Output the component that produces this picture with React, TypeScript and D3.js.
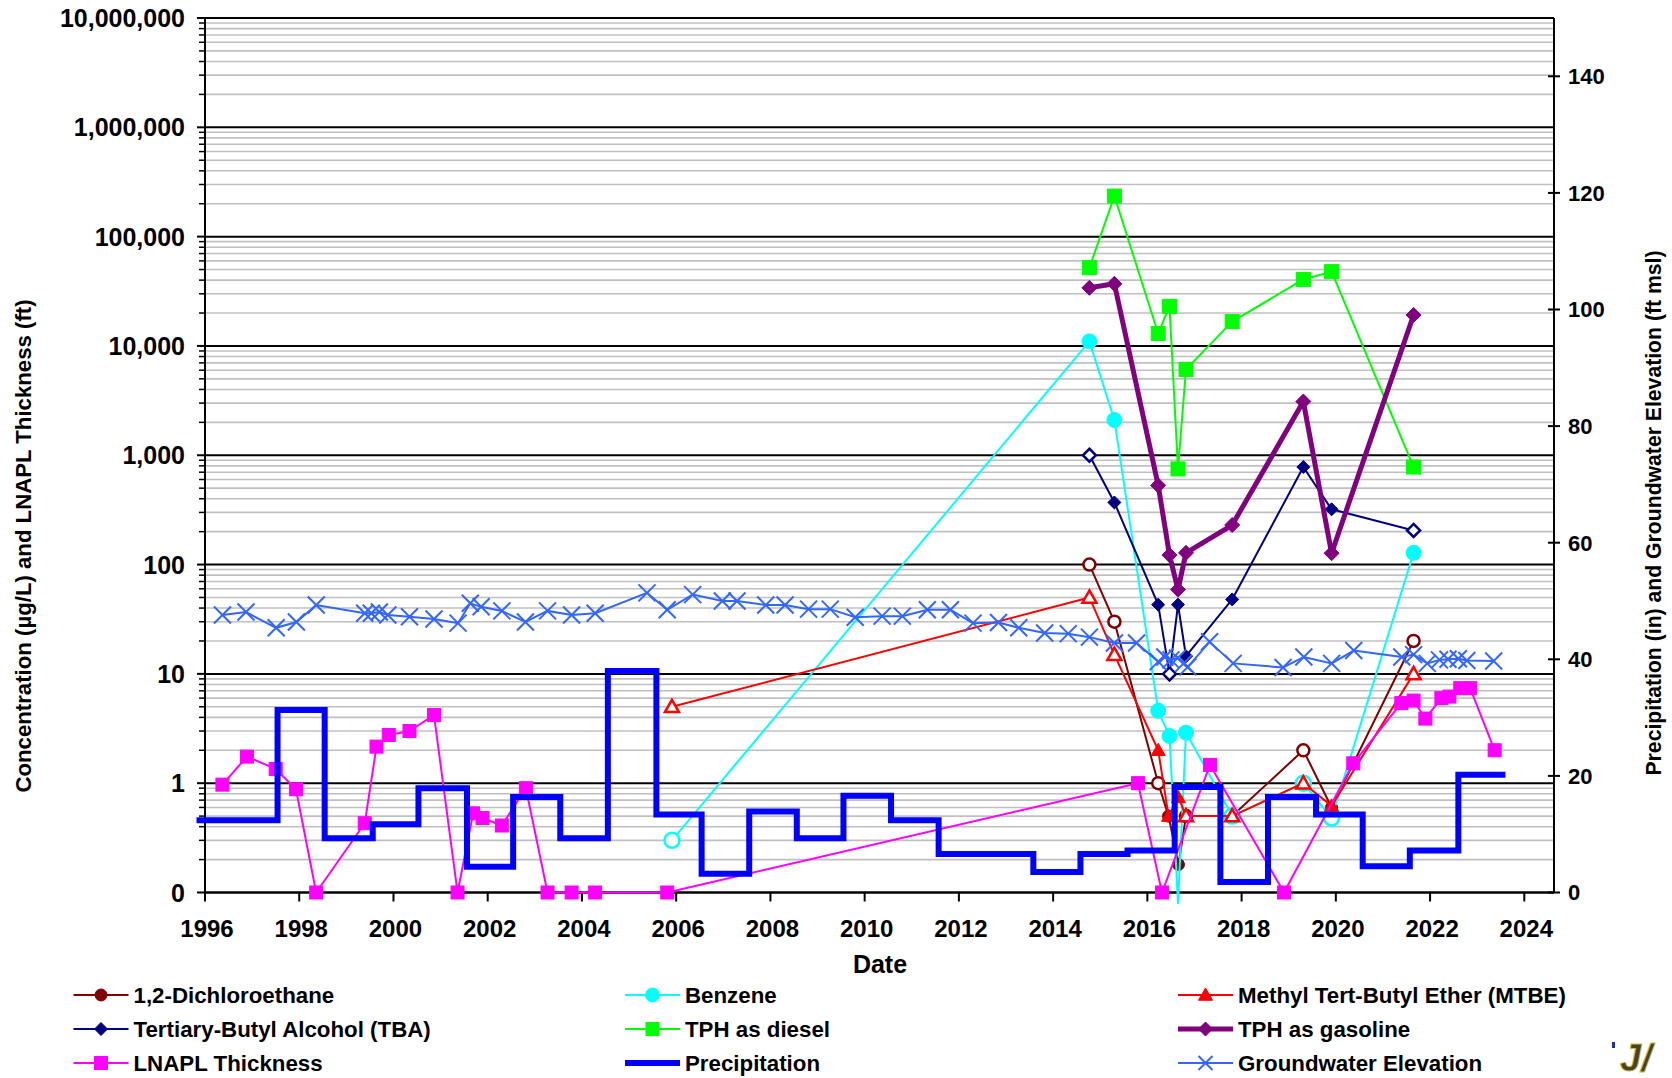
import React from "react";
import * as d3 from "d3";

// ---------- axes / ticks ----------
const xTickYears = [1996, 1998, 2000, 2002, 2004, 2006, 2008, 2010, 2012, 2014, 2016, 2018, 2020, 2022, 2024];
const leftTickValues = [0.1, 1, 10, 100, 1000, 10000, 100000, 1000000, 10000000];
const leftTickLabels = ["0", "1", "10", "100", "1,000", "10,000", "100,000", "1,000,000", "10,000,000"];
const rightTickValues = [0, 20, 40, 60, 80, 100, 120, 140];

// ---------- data (decimal years) ----------
const dcaDates = [2014.77, 2015.3, 2016.23, 2016.45, 2016.66, 2016.82, 2017.8, 2019.31, 2019.91, 2021.65];
const dcaValues = [100, 30, 1.0, 0.5, 0.18, 0.5, 0.5, 2.0, 0.6, 20];
const dcaFlags = ["o", "o", "o", "f", "f", "o", "o", "o", "f", "o"];

const benzeneDates = [2005.91, 2014.77, 2015.3, 2016.23, 2016.47, 2016.65, 2016.82, 2017.8, 2019.31, 2019.91, 2021.65];
const benzeneValues = [0.3, 11000, 2100, 4.6, 2.7, 0.08, 2.9, 0.5, 1.0, 0.48, 128];
const benzeneFlags = ["o", "f", "f", "f", "f", "n", "f", "o", "o", "o", "f"];

const mtbeDates = [2005.91, 2014.77, 2015.3, 2016.23, 2016.45, 2016.66, 2016.82, 2017.8, 2019.31, 2019.91, 2021.65];
const mtbeValues = [5, 50, 15, 2.0, 0.5, 0.74, 0.5, 0.5, 1.0, 0.62, 10];
const mtbeFlags = ["o", "o", "o", "f", "f", "f", "o", "o", "o", "f", "o"];

const tbaDates = [2014.77, 2015.3, 2016.23, 2016.47, 2016.65, 2016.82, 2017.8, 2019.31, 2019.91, 2021.65];
const tbaValues = [1000, 370, 43, 10, 43, 14.5, 48, 780, 320, 205];
const tbaFlags = ["o", "f", "f", "o", "f", "f", "f", "f", "f", "o"];

const dieselDates = [2014.77, 2015.3, 2016.23, 2016.47, 2016.65, 2016.82, 2017.8, 2019.31, 2019.91, 2021.65];
const dieselValues = [52000, 235000, 13000, 23000, 750, 6100, 16700, 40600, 47800, 780];

const gasolineDates = [2014.77, 2015.3, 2016.23, 2016.47, 2016.65, 2016.82, 2017.8, 2019.31, 2019.91, 2021.65];
const gasolineValues = [34000, 37000, 530, 122, 59, 128, 230, 3100, 127, 19200];

const lnaplDates = [
  1996.37, 1996.89, 1997.5, 1997.93, 1998.36, 1999.39, 1999.64, 1999.9, 2000.34, 2000.86,
  2001.36, 2001.69, 2001.89, 2002.3, 2002.81, 2003.27, 2003.78, 2004.28, 2005.81, 2015.8,
  2016.31, 2017.33, 2018.9, 2020.37, 2021.39, 2021.65, 2021.9, 2022.24, 2022.41, 2022.64,
  2022.85, 2023.37,
];
const lnaplValues = [
  0.97, 1.75, 1.35, 0.88, 0, 0.43, 2.16, 2.76, 3.0, 4.2,
  0, 0.53, 0.48, 0.41, 0.9, 0, 0, 0, 0, 1.0,
  0, 1.47, 0, 1.52, 5.4, 5.7, 3.9, 6.0, 6.2, 7.4,
  7.4, 2.0,
];

const precipDates = [
  1995.82, 1997.54, 1998.54, 1999.56, 2000.53, 2001.56, 2002.54, 2003.54, 2004.55, 2005.58,
  2006.54, 2007.55, 2008.56, 2009.55, 2010.56, 2011.57, 2012.57, 2013.58, 2014.58, 2015.58,
  2016.58, 2017.55, 2018.56, 2019.58, 2020.57, 2021.57, 2022.6,
];
const precipValues = [
  12.4, 31.3, 9.3, 11.7, 17.9, 4.4, 16.4, 9.3, 38.0, 13.4,
  3.2, 13.9, 9.3, 16.6, 12.4, 6.6, 6.6, 3.5, 6.6, 7.2,
  18.1, 1.8, 16.4, 13.4, 4.5, 7.2, 20.2,
];
const precipEndDate = 2023.6;

const gwDates = [
  1996.37, 1996.87, 1997.51, 1997.94, 1998.36, 1999.39, 1999.53, 1999.7, 1999.88, 2000.34,
  2000.86, 2001.37, 2001.63, 2001.86, 2002.3, 2002.8, 2003.27, 2003.78, 2004.28, 2005.38,
  2005.81, 2006.35, 2006.98, 2007.29, 2007.9, 2008.31, 2008.81, 2009.27, 2009.8, 2010.37,
  2010.8, 2011.33, 2011.82, 2012.3, 2012.84, 2013.27, 2013.82, 2014.32, 2014.77, 2015.3,
  2015.77, 2016.23, 2016.37, 2016.5, 2016.64, 2016.77, 2016.86, 2017.32, 2017.82, 2018.88,
  2019.32, 2019.91, 2020.38, 2021.4, 2021.65, 2021.94, 2022.2, 2022.38, 2022.6, 2022.78,
  2023.35,
];
const gwValues = [
  47.6, 48.1, 45.4, 46.4, 49.3, 47.9, 47.9, 48.1, 47.6, 47.3,
  46.9, 46.2, 49.6, 49.0, 48.3, 46.4, 48.3, 47.6, 47.9, 51.4,
  48.5, 51.1, 50.0, 50.0, 49.3, 49.3, 48.6, 48.6, 47.2, 47.4,
  47.4, 48.5, 48.5, 46.2, 46.3, 45.4, 44.5, 44.4, 43.8, 42.8,
  42.8, 39.6, 40.4, 39.9, 40.2, 39.3, 38.7, 43.0, 39.3, 38.6,
  40.4, 39.3, 41.5, 40.4, 40.8, 39.3, 39.9, 40.0, 40.1, 39.8,
  39.7,
];

// ---------- layout ----------
const W = 1672;
const H = 1078;
const PL = 205;
const PR = 1554;
const PT = 18;
const PB = 892.5;
const FONT = "'Liberation Sans', Arial, Helvetica, sans-serif";

type Shape = "circle" | "triangle" | "diamond" | "square" | "x";

function Marker(props: { shape: Shape; cx: number; cy: number; s: number; color: string; open?: boolean }) {
  const { shape, cx, cy, s, color, open } = props;
  const fill = open ? "#ffffff" : color;
  const stroke = color;
  const sw = open ? 2.5 : 1;
  if (shape === "circle") return <circle cx={cx} cy={cy} r={s} fill={fill} stroke={stroke} strokeWidth={sw} />;
  if (shape === "square")
    return <rect x={cx - s} y={cy - s} width={2 * s} height={2 * s} fill={fill} stroke={stroke} strokeWidth={sw} />;
  if (shape === "diamond")
    return (
      <path
        d={`M${cx},${cy - s}L${cx + s},${cy}L${cx},${cy + s}L${cx - s},${cy}Z`}
        fill={fill}
        stroke={stroke}
        strokeWidth={sw}
      />
    );
  if (shape === "triangle")
    return (
      <path
        d={`M${cx},${cy - s * 1.0}L${cx + s},${cy + s * 0.75}L${cx - s},${cy + s * 0.75}Z`}
        fill={fill}
        stroke={stroke}
        strokeWidth={sw}
      />
    );
  return (
    <g stroke={color} strokeWidth={2}>
      <line x1={cx - s} y1={cy - s} x2={cx + s} y2={cy + s} />
      <line x1={cx - s} y1={cy + s} x2={cx + s} y2={cy - s} />
    </g>
  );
}

export default function App() {
  const x = d3.scaleLinear().domain([1996, 2024.63]).range([PL, PR]);
  const yL = d3.scaleLog().domain([0.1, 1e7]).range([PB, PT]);
  const yR = d3.scaleLinear().domain([0, 150]).range([PB, PT]);

  const lineL = d3
    .line<[number, number]>()
    .x((d) => x(d[0]))
    .y((d) => yL(d[1]));
  const lineR = d3
    .line<[number, number]>()
    .x((d) => x(d[0]))
    .y((d) => yR(d[1]));
  const stepR = d3
    .line<[number, number]>()
    .curve(d3.curveStepAfter)
    .x((d) => x(d[0]))
    .y((d) => yR(d[1]));

  const zip = (a: number[], b: number[]) => a.map((d, i) => [d, b[i]] as [number, number]);

  const conc = [
    { name: "1,2-Dichloroethane", color: "#800000", shape: "circle" as Shape, s: 6, lw: 2, dates: dcaDates, values: dcaValues, flags: dcaFlags },
    { name: "Benzene", color: "#00FFFF", shape: "circle" as Shape, s: 7.5, lw: 2, dates: benzeneDates, values: benzeneValues, flags: benzeneFlags },
    { name: "Methyl Tert-Butyl Ether (MTBE)", color: "#FF0000", shape: "triangle" as Shape, s: 7, lw: 2, dates: mtbeDates, values: mtbeValues, flags: mtbeFlags },
    { name: "Tertiary-Butyl Alcohol (TBA)", color: "#000080", shape: "diamond" as Shape, s: 6.5, lw: 2, dates: tbaDates, values: tbaValues, flags: tbaFlags },
    { name: "TPH as diesel", color: "#00FF00", shape: "square" as Shape, s: 7, lw: 2, dates: dieselDates, values: dieselValues, flags: dieselDates.map(() => "f") },
    { name: "TPH as gasoline", color: "#800080", shape: "diamond" as Shape, s: 7.5, lw: 5, dates: gasolineDates, values: gasolineValues, flags: gasolineDates.map(() => "f") },
    { name: "LNAPL Thickness", color: "#FF00FF", shape: "square" as Shape, s: 6.5, lw: 2, dates: lnaplDates, values: lnaplValues.map((v) => (v <= 0 ? 0.1 : v)), flags: lnaplDates.map(() => "f") },
  ];

  const gwColor = "#3366FF";
  const precipColor = "#0000FF";

  // minor gridline values
  const minorVals: number[] = [];
  for (let e = -1; e < 7; e++) for (let k = 2; k <= 9; k++) minorVals.push(k * Math.pow(10, e));

  const legendItems = [
    { label: "1,2-Dichloroethane", color: "#800000", shape: "circle" as Shape | null, s: 6, lw: 2 },
    { label: "Benzene", color: "#00FFFF", shape: "circle" as Shape | null, s: 7, lw: 2 },
    { label: "Methyl Tert-Butyl Ether (MTBE)", color: "#FF0000", shape: "triangle" as Shape | null, s: 7, lw: 2 },
    { label: "Tertiary-Butyl Alcohol (TBA)", color: "#000080", shape: "diamond" as Shape | null, s: 6.5, lw: 2 },
    { label: "TPH as diesel", color: "#00FF00", shape: "square" as Shape | null, s: 6.5, lw: 2 },
    { label: "TPH as gasoline", color: "#800080", shape: "diamond" as Shape | null, s: 7, lw: 5 },
    { label: "LNAPL Thickness", color: "#FF00FF", shape: "square" as Shape | null, s: 6.5, lw: 2 },
    { label: "Precipitation", color: precipColor, shape: null as Shape | null, s: 0, lw: 6 },
    { label: "Groundwater Elevation", color: gwColor, shape: "x" as Shape | null, s: 7, lw: 2 },
  ];
  const legCols = [73.5, 625, 1178];
  const legRows = [995, 1029, 1063];

  const precipData = zip(precipDates, precipValues).concat([[precipEndDate, precipValues[precipValues.length - 1]]]);

  return (
    <svg
      width={W}
      height={H}
      style={{ position: "absolute", left: 0, top: 0, background: "#ffffff" }}
      fontFamily={FONT}
      fontWeight="bold"
    >
      <rect x={0} y={0} width={W} height={H} fill="#ffffff" />

      {/* minor gridlines */}
      {minorVals.map((v, i) => (
        <line key={"mg" + i} x1={PL} x2={PR} y1={yL(v)} y2={yL(v)} stroke="#c0c0c0" strokeWidth={1.6} />
      ))}
      {/* major gridlines */}
      {leftTickValues.map((v, i) => (
        <line key={"Mg" + i} x1={PL} x2={PR} y1={yL(v)} y2={yL(v)} stroke="#000000" strokeWidth={2} />
      ))}

      {/* left axis */}
      <line x1={PL} x2={PL} y1={PT} y2={PB} stroke="#000" strokeWidth={2} />
      {minorVals.map((v, i) => (
        <line key={"mt" + i} x1={PL - 6} x2={PL} y1={yL(v)} y2={yL(v)} stroke="#000" strokeWidth={1.5} />
      ))}
      {leftTickValues.map((v, i) => (
        <g key={"lt" + i}>
          <line x1={PL - 8} x2={PL} y1={yL(v)} y2={yL(v)} stroke="#000" strokeWidth={2} />
          <text x={185} y={yL(v)} dy="0.36em" textAnchor="end" fontSize={25} fill="#000">
            {leftTickLabels[i]}
          </text>
        </g>
      ))}

      {/* right axis */}
      <line x1={PR} x2={PR} y1={PT} y2={PB} stroke="#000" strokeWidth={2} />
      {rightTickValues.map((v, i) => (
        <g key={"rt" + i}>
          <line x1={PR - 6} x2={PR + 6} y1={yR(v)} y2={yR(v)} stroke="#000" strokeWidth={2} />
          <text x={1568} y={yR(v)} dy="0.36em" textAnchor="start" fontSize={22} fill="#000">
            {v}
          </text>
        </g>
      ))}

      {/* bottom axis */}
      <line x1={PL} x2={PR} y1={PB} y2={PB} stroke="#000" strokeWidth={2} />
      {xTickYears.map((yr) => (
        <g key={"xt" + yr}>
          <line x1={x(yr)} x2={x(yr)} y1={PB} y2={PB + 9} stroke="#000" strokeWidth={2} />
          <text x={x(yr) + 2} y={937} textAnchor="middle" fontSize={24} fill="#000">
            {yr}
          </text>
        </g>
      ))}

      {/* axis titles */}
      <text x={880} y={973} textAnchor="middle" fontSize={25} fill="#000">
        Date
      </text>
      <text
        transform={`translate(23,546) rotate(-90)`}
        textAnchor="middle"
        dy="0.36em"
        fontSize={22.2}
        fill="#000"
      >
        Concentration (µg/L) and LNAPL Thickness (ft)
      </text>
      <text
        transform={`translate(1653,513) rotate(-90)`}
        textAnchor="middle"
        dy="0.36em"
        fontSize={21.2}
        fill="#000"
      >
        Precipitation (in) and Groundwater Elevation (ft msl)
      </text>

      {/* concentration series */}
      {conc.map((s) => (
        <g key={s.name}>
          <path d={lineL(zip(s.dates, s.values)) || ""} fill="none" stroke={s.color} strokeWidth={s.lw} strokeLinejoin="round" />
          {s.dates.map((d, i) =>
            s.flags[i] === "n" ? null : (
              <Marker
                key={i}
                shape={s.shape}
                cx={x(d)}
                cy={yL(s.values[i])}
                s={s.s}
                color={s.color}
                open={s.flags[i] === "o"}
              />
            )
          )}
        </g>
      ))}

      {/* precipitation */}
      <path d={stepR(precipData) || ""} fill="none" stroke={precipColor} strokeWidth={6} strokeLinejoin="miter" />

      {/* groundwater elevation */}
      <path d={lineR(zip(gwDates, gwValues)) || ""} fill="none" stroke={gwColor} strokeWidth={2} />
      {gwDates.map((d, i) => (
        <Marker key={"gw" + i} shape="x" cx={x(d)} cy={yR(gwValues[i])} s={8.5} color={gwColor} />
      ))}

      {/* legend */}
      {legendItems.map((it, i) => {
        const cx0 = legCols[i % 3];
        const cy = legRows[Math.floor(i / 3)];
        return (
          <g key={"lg" + i}>
            <line x1={cx0} x2={cx0 + 55} y1={cy} y2={cy} stroke={it.color} strokeWidth={it.lw} />
            {it.shape ? <Marker shape={it.shape} cx={cx0 + 27.5} cy={cy} s={it.s} color={it.color} /> : null}
            <text x={cx0 + 60} y={cy} dy="0.36em" fontSize={22.3} fill="#000">
              {it.label}
            </text>
          </g>
        );
      })}

      {/* partial logo */}
      <rect x={1612} y={1042} width={3} height={6} fill="#2030a0" />
      <text x={1620} y={1071} fontSize={38} fontStyle="italic" fontWeight={900} fill="#4a4222" stroke="#c8c040" strokeWidth={0.8}>
        J/
      </text>
    </svg>
  );
}
